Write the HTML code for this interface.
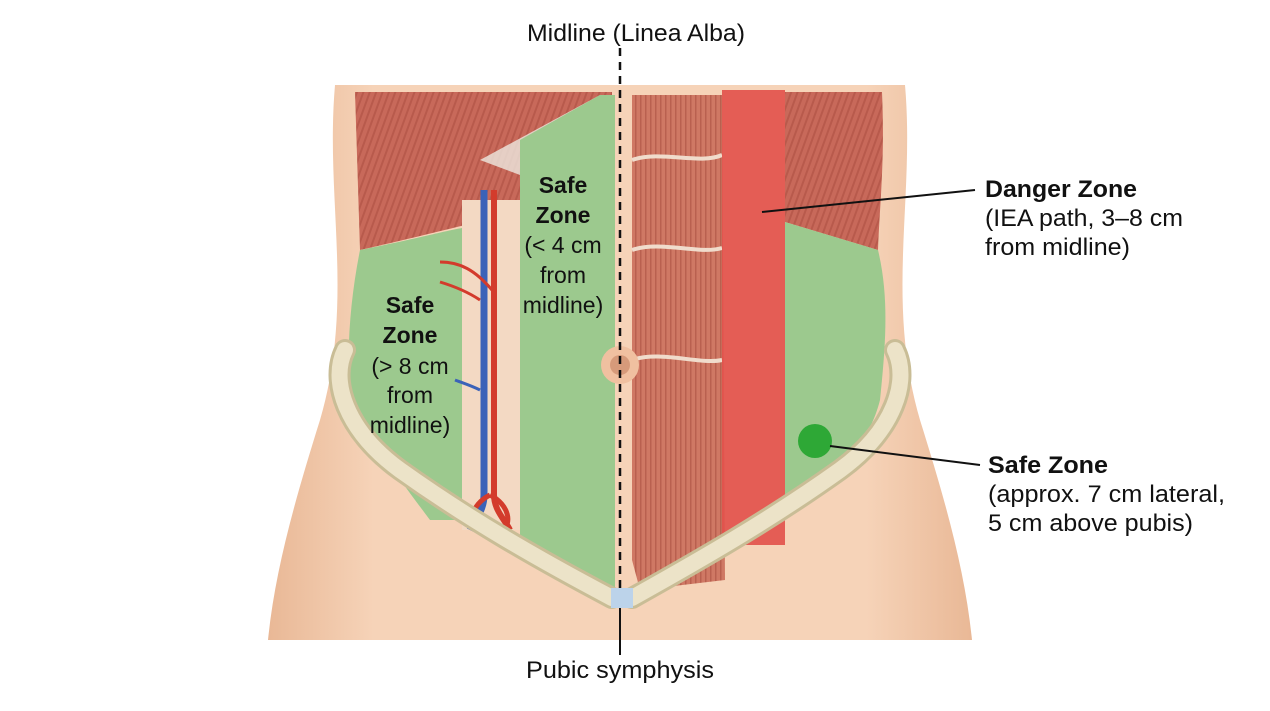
<!DOCTYPE html>
<html><head><meta charset="utf-8"><style>
html,body{margin:0;padding:0;background:#fff;}
svg{display:block;}
text{font-family:"Liberation Sans",Arial,sans-serif;fill:#111;}
</style></head><body>
<svg width="1270" height="711" viewBox="0 0 1270 711" xmlns="http://www.w3.org/2000/svg">
<defs>
<linearGradient id="skin" x1="0" y1="0" x2="1" y2="0">
<stop offset="0" stop-color="#e9b896"/><stop offset="0.15" stop-color="#f6d3b8"/><stop offset="0.85" stop-color="#f6d3b8"/><stop offset="1" stop-color="#e9b896"/></linearGradient>
<pattern id="musc" width="6" height="6" patternUnits="userSpaceOnUse" patternTransform="rotate(20)">
<rect width="6" height="6" fill="#c8695a"/><rect width="2" height="6" fill="#b85a4c"/></pattern>
<pattern id="rect" width="5" height="5" patternUnits="userSpaceOnUse">
<rect width="5" height="5" fill="#cf7864"/><rect width="1.5" height="5" fill="#b9604f"/></pattern>
</defs>
<rect width="1270" height="711" fill="#fff"/>
<path d="M335,85 L905,85 C915,200 885,300 920,420 C945,500 965,570 972,640 L268,640 C275,570 295,500 320,420 C355,300 325,200 335,85 Z" fill="url(#skin)"/>
<path d="M355,92 L612,92 L612,190 C540,205 470,225 360,250 Z" fill="url(#musc)"/>
<path d="M480,160 L600,95 L612,110 L520,175 Z" fill="#eee8e0" opacity="0.8"/>
<path d="M360,250 C420,238 440,232 462,228 L462,520 L430,520 C400,480 370,440 352,400 C345,360 350,300 360,250Z" fill="#9cc98e"/>
<rect x="462" y="200" width="58" height="330" fill="#f3d9c3"/>
<path d="M520,140 L600,95 L615,95 L615,590 L540,570 L520,540 Z" fill="#9cc98e"/>
<path d="M484,190 L484,495 C484,510 475,520 470,530" stroke="#3b62b8" stroke-width="7" fill="none"/>
<path d="M494,190 L494,495 C494,510 505,520 510,530" stroke="#d33b2c" stroke-width="6" fill="none"/>
<path d="M490,495 C470,505 468,525 478,530 M490,495 C510,505 512,525 502,530" stroke="#d33b2c" stroke-width="5" fill="none"/>
<path d="M480,300 C465,290 450,285 440,282 M492,290 C475,270 460,262 440,262" stroke="#d33b2c" stroke-width="3" fill="none"/>
<path d="M480,390 C470,385 460,382 455,380" stroke="#3b62b8" stroke-width="3" fill="none"/>
<path d="M632,95 L722,95 L725,580 L640,590 L632,560 Z" fill="url(#rect)"/>
<g stroke="#f0dccc" stroke-width="4" fill="none">
<path d="M632,160 C660,150 700,165 722,155"/><path d="M632,250 C660,240 700,255 722,248"/><path d="M632,360 C660,350 700,365 722,360"/>
</g>
<rect x="722" y="90" width="63" height="455" fill="#e2504a" opacity="0.9"/>
<path d="M785,92 L882,92 C885,160 880,200 878,250 L785,222 Z" fill="url(#musc)"/>
<path d="M785,222 L878,250 C890,300 885,350 880,400 C870,440 840,480 785,510 Z" fill="#9cc98e"/>
<g fill="none" stroke-linecap="round">
<path d="M345,350 C330,380 345,430 400,470 C470,520 540,560 612,598" stroke="#c9bd96" stroke-width="22"/>
<path d="M345,350 C330,380 345,430 400,470 C470,520 540,560 612,598" stroke="#ece3c8" stroke-width="16"/>
<path d="M895,350 C910,380 895,430 840,470 C770,520 700,560 632,598" stroke="#c9bd96" stroke-width="22"/>
<path d="M895,350 C910,380 895,430 840,470 C770,520 700,560 632,598" stroke="#ece3c8" stroke-width="16"/>
</g>
<rect x="611" y="588" width="22" height="20" fill="#bcd3ea"/>
<circle cx="620" cy="365" r="19" fill="#f0c0a0"/><circle cx="620" cy="365" r="10" fill="#d69a7a"/>
<circle cx="815" cy="441" r="17" fill="#2ea836"/>
<line x1="620" y1="48" x2="620" y2="590" stroke="#111" stroke-width="2.5" stroke-dasharray="8,6"/>
<line x1="620" y1="608" x2="620" y2="655" stroke="#111" stroke-width="2"/>
<line x1="762" y1="212" x2="975" y2="190" stroke="#111" stroke-width="2"/>
<line x1="830" y1="446" x2="980" y2="465" stroke="#111" stroke-width="2"/>
<text x="636" y="41" font-size="24" text-anchor="middle" textLength="218" lengthAdjust="spacingAndGlyphs">Midline (Linea Alba)</text>
<text x="620" y="678" font-size="24" text-anchor="middle" textLength="188" lengthAdjust="spacingAndGlyphs">Pubic symphysis</text>
<text x="985" y="197" font-size="24" font-weight="bold" textLength="152" lengthAdjust="spacingAndGlyphs">Danger Zone</text>
<text x="985" y="226" font-size="24" textLength="198" lengthAdjust="spacingAndGlyphs">(IEA path, 3–8 cm</text>
<text x="985" y="255" font-size="24" textLength="145" lengthAdjust="spacingAndGlyphs">from midline)</text>
<text x="988" y="473" font-size="24" font-weight="bold" textLength="120" lengthAdjust="spacingAndGlyphs">Safe Zone</text>
<text x="988" y="502" font-size="24" textLength="237" lengthAdjust="spacingAndGlyphs">(approx. 7 cm lateral,</text>
<text x="988" y="531" font-size="24" textLength="205" lengthAdjust="spacingAndGlyphs">5 cm above pubis)</text>
<g font-size="23" text-anchor="middle">
<text x="410" y="313" font-weight="bold">Safe</text>
<text x="410" y="343" font-weight="bold">Zone</text>
<text x="410" y="374">(&gt; 8 cm</text>
<text x="410" y="403">from</text>
<text x="410" y="433">midline)</text>
<text x="563" y="193" font-weight="bold">Safe</text>
<text x="563" y="223" font-weight="bold">Zone</text>
<text x="563" y="253">(&lt; 4 cm</text>
<text x="563" y="283">from</text>
<text x="563" y="313">midline)</text>
</g>
</svg>
</body></html>
